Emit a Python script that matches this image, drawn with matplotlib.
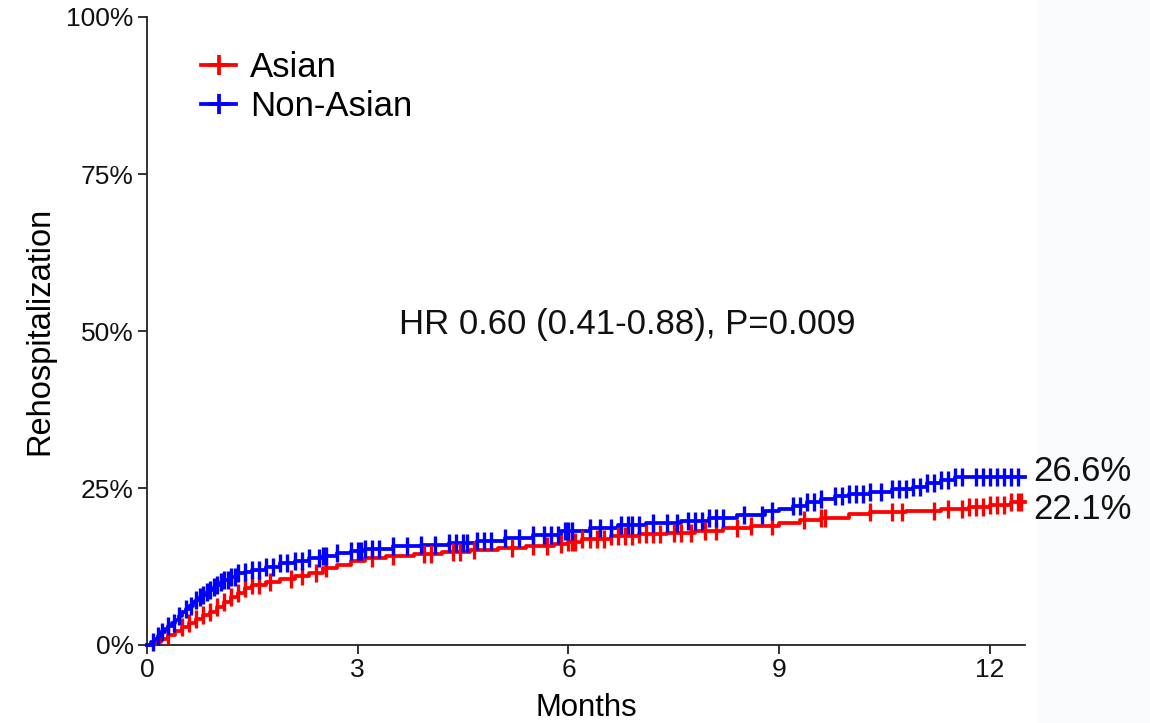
import numpy as np
import matplotlib
matplotlib.use("Agg")
import matplotlib.pyplot as plt
from matplotlib.lines import Line2D
from matplotlib.patches import Rectangle

plt.rcParams['font.family'] = ['Liberation Sans', 'DejaVu Sans']

# ---------------- data ----------------
groups = ["Asian", "Non-Asian"]
colors = ["#ff0000", "#0000ff"]

# Non-Asian cumulative incidence (%) step events
nonasian_t = [0, 0.05, 0.1, 0.15, 0.2, 0.25, 0.3, 0.35, 0.4, 0.45, 0.5, 0.55, 0.6, 0.65,
              0.7, 0.75, 0.8, 0.85, 0.9, 0.95, 1.0, 1.05, 1.1, 1.2, 1.3, 1.4, 1.5, 1.7,
              1.9, 2.1, 2.3, 2.5, 2.7, 2.9, 3.1, 3.5, 3.9, 4.3, 4.7, 5.1, 5.5, 5.9, 6.3,
              6.7, 7.1, 7.6, 8.0, 8.4, 8.8, 9.0, 9.2, 9.4, 9.6, 9.8, 10.0, 10.3, 10.6,
              10.9, 11.1, 11.3, 11.5]
nonasian_y = [0, 0.5, 1.0, 1.5, 2.0, 2.5, 3.0, 3.5, 4.0, 4.6, 5.2, 5.7, 6.2, 6.8,
              7.2, 7.6, 8.0, 8.4, 8.8, 9.2, 9.6, 10.0, 10.4, 10.9, 11.4, 11.7, 12.0, 12.5,
              13.0, 13.4, 13.8, 14.2, 14.6, 15.0, 15.3, 15.7, 16.0, 16.3, 16.6, 17.0, 17.5, 18.2, 18.7,
              19.1, 19.4, 19.8, 20.2, 20.7, 21.3, 21.7, 22.2, 22.8, 23.3, 23.7, 24.1, 24.4, 24.8,
              25.2, 25.8, 26.3, 26.8]
nonasian_cens = [0.08, 0.15, 0.22, 0.3, 0.38, 0.45, 0.55, 0.62, 0.7, 0.75, 0.8, 0.85, 0.9,
                 0.95, 1.0, 1.05, 1.1, 1.15, 1.2, 1.25, 1.3, 1.4, 1.5, 1.6, 1.7, 1.8, 1.9,
                 2.0, 2.1, 2.2, 2.3, 2.45, 2.5, 2.55, 2.7, 2.9, 3.0, 3.05, 3.1, 3.2, 3.3,
                 3.5, 3.7, 3.9, 4.1, 4.3, 4.4, 4.5, 4.55, 4.7, 4.8, 4.9, 5.1, 5.3, 5.5,
                 5.65, 5.75, 5.85, 5.95, 6.0, 6.05, 6.3, 6.45, 6.6, 6.75, 6.85, 6.9, 7.0,
                 7.2, 7.4, 7.55, 7.7, 7.8, 7.9, 8.0, 8.1, 8.2, 8.5, 8.75, 8.9, 9.2, 9.3,
                 9.4, 9.5, 9.6, 9.8, 9.9, 10.0, 10.1, 10.2, 10.3, 10.45, 10.6, 10.7, 10.8,
                 10.9, 11.0, 11.1, 11.2, 11.3, 11.4, 11.5, 11.6, 11.8, 11.9, 12.0, 12.1,
                 12.2, 12.3, 12.4]

# Asian cumulative incidence (%) step events
asian_t = [0, 0.1, 0.2, 0.3, 0.4, 0.5, 0.6, 0.7, 0.8, 0.9, 1.0, 1.1, 1.2, 1.3, 1.4, 1.5,
           1.7, 1.9, 2.1, 2.3, 2.5, 2.7, 2.9, 3.1, 3.4, 3.8, 4.2, 4.6, 5.0, 5.4, 5.8,
           6.0, 6.2, 6.6, 7.0, 7.4, 7.8, 8.2, 8.6, 9.0, 9.3, 9.6, 10.0, 10.3, 10.8,
           11.3, 11.7, 12.0, 12.3]
asian_y = [0, 0.4, 1.0, 1.6, 2.2, 2.9, 3.5, 4.1, 4.7, 5.3, 6.0, 6.8, 7.6, 8.3, 9.0, 9.6,
           10.0, 10.5, 11.0, 11.5, 12.2, 12.8, 13.3, 13.8, 14.2, 14.5, 14.8, 15.2, 15.5,
           15.8, 16.1, 16.4, 16.9, 17.3, 17.6, 17.9, 18.2, 18.6, 19.0, 19.5, 19.9, 20.3,
           20.9, 21.1, 21.3, 21.6, 22.0, 22.3, 22.7]
asian_cens = [0.3, 0.5, 0.6, 0.7, 0.8, 0.9, 1.0, 1.1, 1.2, 1.3, 1.4, 1.5, 1.6, 1.75, 2.05,
              2.2, 2.4, 2.55, 3.2, 3.5, 3.95, 4.05, 4.35, 4.45, 4.65, 5.2, 5.5, 5.7, 5.9,
              6.0, 6.05, 6.1, 6.2, 6.3, 6.4, 6.5, 6.6, 6.7, 6.8, 6.9, 7.0, 7.1, 7.2, 7.3,
              7.5, 7.6, 7.75, 7.95, 8.1, 8.4, 8.6, 8.9, 9.35, 9.6, 9.65, 10.3, 10.6,
              10.75, 11.2, 11.4, 11.6, 11.7, 11.8, 11.9, 12.0, 12.1, 12.2, 12.3, 12.4, 12.45]

x_ticks = [0, 3, 6, 9, 12]
y_ticks = [0, 25, 50, 75, 100]
y_ticklabels = ["0%", "25%", "50%", "75%", "100%"]
end_labels = ["22.1%", "26.6%"]
hr_text = "HR 0.60 (0.41-0.88), P=0.009"
x_max = 12.5

# ---------------- figure ----------------
fig = plt.figure(figsize=(11.5, 7.23), dpi=100)
fig.patch.set_facecolor("white")
fig.add_artist(Rectangle((1037 / 1150, 0), 1 - 1037 / 1150, 1, transform=fig.transFigure,
                         facecolor="#fafbfc", edgecolor="none", zorder=0))
ax = fig.add_axes([147 / 1150, 1 - 645 / 723, 878 / 1150, 628 / 723])
ax.set_facecolor("none")

series = [(asian_t, asian_y, asian_cens), (nonasian_t, nonasian_y, nonasian_cens)]
for (t, y, cens), col, name in zip(series, colors, groups):
    t = np.asarray(t, float)
    y = np.asarray(y, float)
    tt = np.append(t, x_max)
    yy = np.append(y, y[-1])
    ax.step(tt, yy, where="post", color=col, lw=2.7, zorder=3, clip_on=False)
    c = np.asarray(cens, float)
    idx = np.searchsorted(t, c, side="right") - 1
    ax.plot(c, y[idx], linestyle="none", marker="|", markersize=13, mew=2.4,
            color=col, zorder=4, clip_on=False)

ax.set_xlim(0, x_max)
ax.set_ylim(0, 100)
ax.set_xticks(x_ticks)
ax.set_xticklabels([str(v) for v in x_ticks])
ax.set_yticks(y_ticks)
ax.set_yticklabels(y_ticklabels)
for s in ["top", "right"]:
    ax.spines[s].set_visible(False)
for s in ["left", "bottom"]:
    ax.spines[s].set_linewidth(1.3)
    ax.spines[s].set_color("#222222")
ax.tick_params(axis="both", direction="out", length=6.5, width=1.3, labelsize=19,
               color="#222222", labelcolor="#111111", pad=3)

ax.set_xlabel("Months", fontsize=22.4, labelpad=8)
ax.set_ylabel("Rehospitalization", fontsize=23.5, labelpad=8)

ax.text(6.84, 51, hr_text, fontsize=25, ha="center", va="center", color="#111111")

ax.text(12.62, nonasian_y[-1] + 0.8, end_labels[1], fontsize=25, ha="left", va="center",
        color="#111111", clip_on=False)
ax.text(12.62, asian_y[-1] - 1.2, end_labels[0], fontsize=25, ha="left", va="center",
        color="#111111", clip_on=False)

handles = [Line2D([0], [0], color=c, lw=2.7, marker="+", markersize=14, mew=2.7)
           for c in colors]
leg = ax.legend(handles, groups, loc="upper left", bbox_to_anchor=(0.034, 0.985),
                frameon=False, fontsize=25, handlelength=1.0, handletextpad=0.4,
                labelspacing=0.18, borderpad=0.2)

fig.savefig("out.png", dpi=100, facecolor=fig.get_facecolor())
